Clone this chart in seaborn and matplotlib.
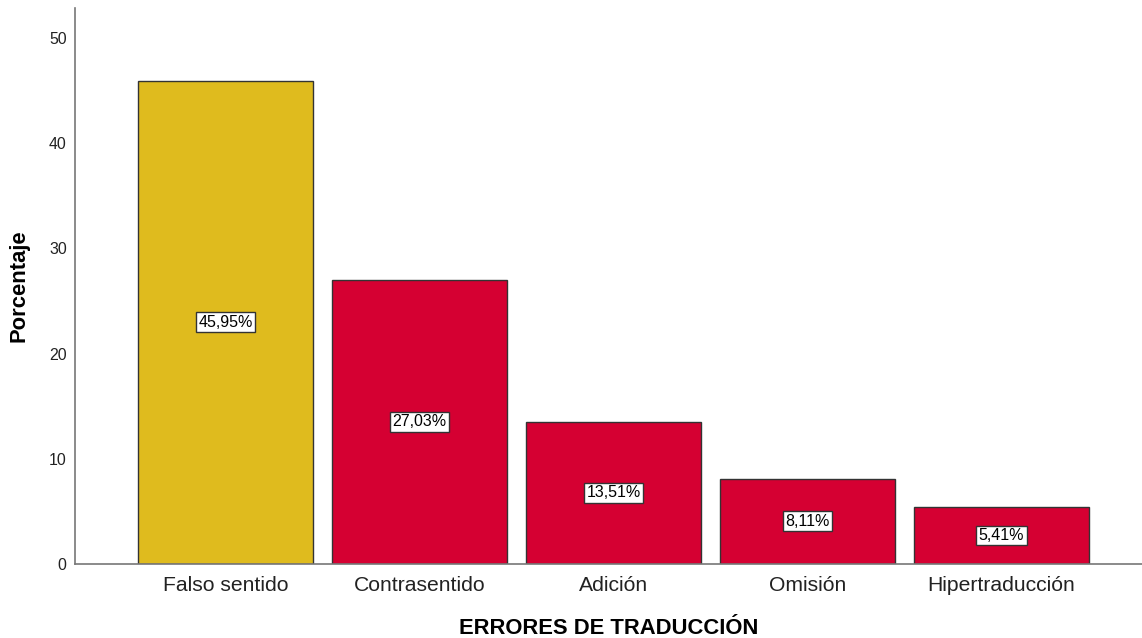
import matplotlib
matplotlib.use("Agg")
import matplotlib.pyplot as plt
import seaborn as sns
import pandas as pd

categories = ["Falso sentido", "Contrasentido", "Adición", "Omisión", "Hipertraducción"]
percentages = [45.95, 27.03, 13.51, 8.11, 5.41]
bar_colors = ["#DFBB1E", "#D50032", "#D50032", "#D50032", "#D50032"]
y_ticks = [0, 10, 20, 30, 40, 50]

sns.set_theme(style="white")
plt.rcParams["font.family"] = ["Liberation Sans", "DejaVu Sans"]

df = pd.DataFrame({"categoria": categories, "porcentaje": percentages})

fig = plt.figure(figsize=(11.42, 6.38), dpi=100)
ax = fig.add_axes([0.0657, 0.116, 0.9343, 0.8715])

sns.barplot(data=df, x="categoria", y="porcentaje", hue="categoria",
            palette=bar_colors, saturation=1, width=0.9,
            edgecolor="#333333", linewidth=1.0, legend=False, ax=ax)

for i, v in enumerate(percentages):
    ax.text(i, v / 2, f"{v:.2f}%".replace(".", ","), ha="center", va="center",
            fontsize=11.5, color="black",
            bbox=dict(boxstyle="square,pad=0.15", facecolor="white",
                      edgecolor="#333333", linewidth=1.0))

ax.set_xlim(-0.776, 4.724)
ax.set_ylim(0, 52.85)
ax.set_yticks(y_ticks)
ax.tick_params(axis="y", labelsize=11.4, length=0, pad=6, colors="#222222")
ax.tick_params(axis="x", labelsize=15.2, length=0, pad=9, colors="#222222")

ax.set_xlabel("ERRORES DE TRADUCCIÓN", fontsize=15.8, fontweight="bold",
              labelpad=16, color="black")
ax.set_ylabel("Porcentaje", fontsize=15.8, fontweight="bold", labelpad=14,
              color="black")

for side in ["top", "right"]:
    ax.spines[side].set_visible(False)
for side in ["left", "bottom"]:
    ax.spines[side].set_color("#777777")
    ax.spines[side].set_linewidth(1.2)

fig.savefig("out.png", dpi=100)
